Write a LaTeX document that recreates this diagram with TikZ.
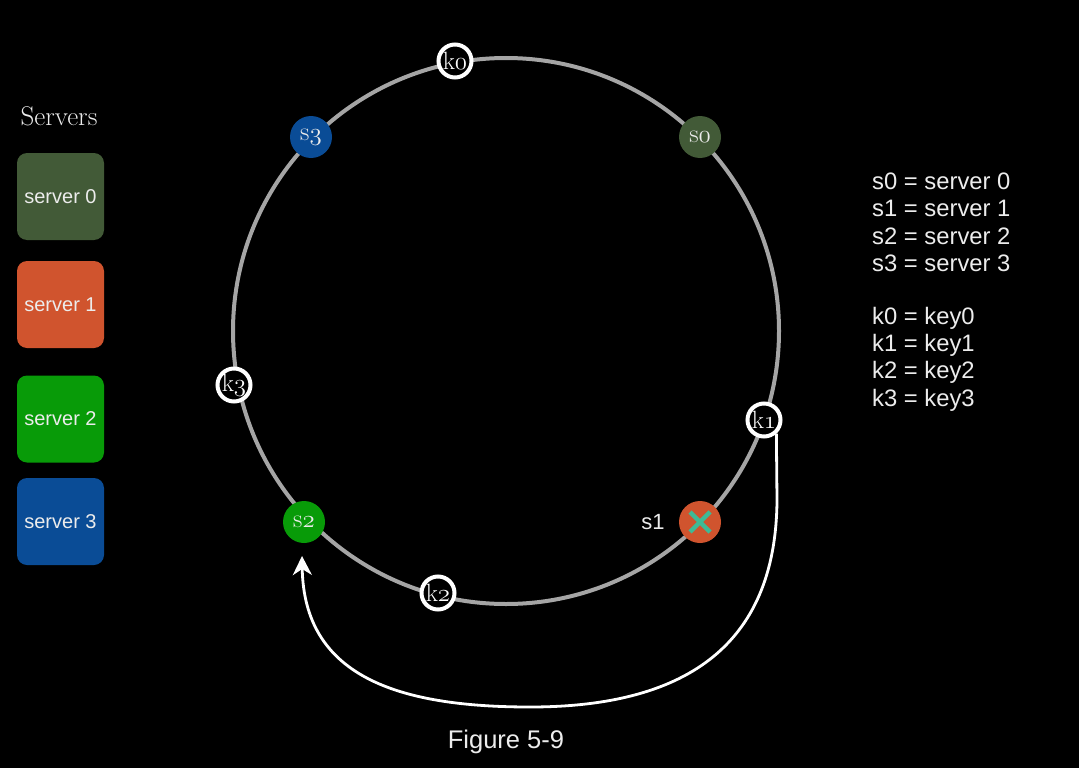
\documentclass[tikz,border=0pt]{standalone}
\usepackage{fontspec}
\newfontfamily\sansf{Liberation Sans}
\usetikzlibrary{arrows.meta,calc}
\definecolor{cszero}{RGB}{66,90,55}
\definecolor{csone}{RGB}{208,84,46}
\definecolor{cstwo}{RGB}{8,155,8}
\definecolor{csthree}{RGB}{10,76,150}
\definecolor{ringgray}{RGB}{165,165,165}
\definecolor{txtw}{RGB}{236,236,236}
\definecolor{xteal}{RGB}{62,186,150}
\newcommand\osn[1]{{\usefont{OML}{lmm}{m}{it}#1}}
\tikzset{
  srvnode/.style={circle,fill=#1,minimum size=42pt,inner sep=0pt,text=txtw,font=\fontsize{26}{28}\selectfont},
  keynode/.style={circle,draw=white,line width=4pt,fill=black,minimum size=33pt,inner sep=0pt,text=white,font=\fontsize{25}{27}\selectfont},
  srvbox/.style={rounded corners=10pt,fill=#1,minimum width=87pt,minimum height=87pt,inner sep=0pt,text=txtw,font=\sansf\fontsize{20}{24}\selectfont},
  legend/.style={anchor=west,inner sep=0pt,text=txtw,font=\sansf\fontsize{23.8}{27}\selectfont},
  ringline/.style={draw=ringgray,line width=4pt},
  arrowline/.style={draw=white,line width=2.8pt,-{Stealth[length=19pt,width=19pt,inset=6pt]}}
}
\begin{document}
\begin{tikzpicture}[x=1pt,y=-1pt]
\fill[black] (0,0) rectangle (1079,768);
\useasboundingbox (0,0) rectangle (1079,768);
% ring
\coordinate (c) at (506,331);
\draw[ringline] (c) circle[radius=273];
% server nodes on ring
\node[srvnode=cszero] (s0) at (700,137) {s\osn{0}};
\node[srvnode=csthree] (s3) at (311,137) {s\osn{3}};
\node[srvnode=cstwo] (s2) at (304,522) {s\osn{2}};
\node[srvnode=csone] (s1) at (700,522) {};
\draw[xteal,line width=4.5pt] ($(s1)+(-10,-10)$) -- ($(s1)+(10,10)$);
\draw[xteal,line width=4.5pt] ($(s1)+(-10,10)$) -- ($(s1)+(10,-10)$);
\node[text=txtw,font=\sansf\fontsize{22}{24}\selectfont] (s1lab) at (653,522) {s1};
% key nodes
\node[keynode] (k0) at (455,61) {k\osn{0}};
\node[keynode] (k1) at (764,420) {k\osn{1}};
\node[keynode] (k2) at (438,593) {k\osn{2}};
\node[keynode] (k3) at (234,385) {k\osn{3}};
% arrow from k1 to s2
\coordinate (a1) at (777,500);
\coordinate (a2) at (530,707);
\coordinate (tip) at (302,556);
\draw[arrowline] (k1.-48) -- (a1) .. controls (776,650) and (680,707) .. (a2) .. controls (395,707) and (304,675) .. (tip);
% servers panel
\node[text=txtw,font=\fontsize{27}{30}\selectfont] (title) at (59,116) {Servers};
\node[srvbox=cszero] (b0) at (60.5,196.5) {server 0};
\node[srvbox=csone] (b1) at (60.5,304.5) {server 1};
\node[srvbox=cstwo] (b2) at (60.5,419) {server 2};
\node[srvbox=csthree] (b3) at (60.5,521.5) {server 3};
% legend
\node[legend] (l0) at (872,181) {s0 = server 0};
\node[legend] (l1) at (872,208.5) {s1 = server 1};
\node[legend] (l2) at (872,236) {s2 = server 2};
\node[legend] (l3) at (872,263) {s3 = server 3};
\node[legend] (l4) at (872,318) {k0 = key0};
\node[legend] (l5) at (872,345) {k1 = key1};
\node[legend] (l6) at (872,372.5) {k2 = key2};
\node[legend] (l7) at (872,400) {k3 = key3};
% caption
\node[text=txtw,font=\sansf\fontsize{25.5}{28}\selectfont] (cap) at (506,742) {Figure 5-9};
\end{tikzpicture}
\end{document}
